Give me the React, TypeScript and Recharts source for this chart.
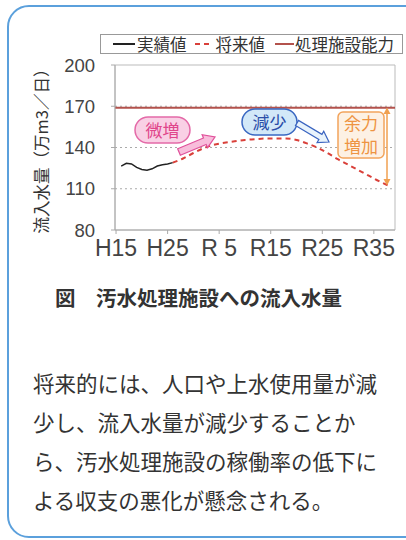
import { ComposedChart, Line, XAxis, YAxis, ReferenceLine, ReferenceArea } from "recharts"

// 実績値 (fiscal year, 万m3/日)
const actualYears = [2004, 2005, 2006, 2007, 2008, 2009, 2010, 2011, 2012, 2013, 2014]
const actualValues = [126.5, 128.5, 128, 125.5, 124, 123.5, 124.5, 126.5, 127.5, 128, 129]

// 将来値
const futureYears = [2014, 2016, 2018, 2020, 2022, 2024, 2026, 2028, 2030, 2032, 2034, 2036, 2038, 2040, 2042, 2044, 2046, 2048, 2050, 2052, 2054, 2056]
const futureValues = [129, 132, 136, 139.5, 142, 143.5, 144.5, 145.5, 146, 146.5, 146.5, 146.5, 145.5, 143, 140, 136, 131.5, 127.5, 123.5, 119.5, 115.5, 112]

// 処理施設能力
const capacity = 169

const tickYears = [2003, 2013, 2023, 2033, 2043, 2053]
const tickLabels = ["H15", "H25", "R 5", "R15", "R25", "R35"]
const yTicks = [80, 110, 140, 170, 200]
const gridValues = [110, 140, 170]
const legendLabels = ["実績値", "将来値", "処理施設能力"]

const bodyLines = [
  "将来的には、人口や上水使用量が減",
  "少し、流入水量が減少することか",
  "ら、汚水処理施設の稼働率の低下に",
  "よる収支の悪化が懸念される。",
]

const actualData = actualYears.map((year, i) => ({ year, value: actualValues[i] }))
const futureData = futureYears.map((year, i) => ({ year, value: futureValues[i] }))

const jp = '"Noto Sans CJK JP", sans-serif'
const latin = '"Liberation Sans", Arial, sans-serif'

function blockArrow(x1: number, y1: number, x2: number, y2: number, shaft: number, head: number, headLen: number) {
  const dx = x2 - x1
  const dy = y2 - y1
  const len = Math.hypot(dx, dy)
  const ux = dx / len
  const uy = dy / len
  const nx = -uy
  const ny = ux
  const bx = x2 - ux * headLen
  const by = y2 - uy * headLen
  const pts = [
    [x1 + nx * shaft / 2, y1 + ny * shaft / 2],
    [bx + nx * shaft / 2, by + ny * shaft / 2],
    [bx + nx * head / 2, by + ny * head / 2],
    [x2, y2],
    [bx - nx * head / 2, by - ny * head / 2],
    [bx - nx * shaft / 2, by - ny * shaft / 2],
    [x1 - nx * shaft / 2, y1 - ny * shaft / 2],
  ]
  return pts.map((p) => p.join(",")).join(" ")
}

function Annotations() {
  return (
    <svg width={406} height={262} style={{ position: "absolute", left: 0, top: 0, pointerEvents: "none" }}>
      {/* y axis title */}
      <text
        x={0}
        y={0}
        transform="translate(48,147) rotate(-90)"
        textAnchor="middle"
        fontSize={16.5}
        fontFamily={jp}
        fill="#333"
      >
        流入水量（万m3／日）
      </text>

      {/* 微増 */}
      <rect x={135} y={117} width={55} height={26} rx={13} fill="#f9d0e5" stroke="#e46aa8" strokeWidth={1.5} />
      <text x={162.5} y={136.5} textAnchor="middle" fontSize={17} fontFamily={jp} fill="#e0458b">微増</text>
      <polygon points={blockArrow(179, 152, 215, 137, 7, 14, 11)} fill="#f8bddb" stroke="#e0509a" strokeWidth={1.2} />

      {/* 減少 */}
      <rect x={242} y={109} width={55} height={26} rx={13} fill="#d2e8f8" stroke="#3a68c2" strokeWidth={1.5} />
      <text x={269.5} y={128.5} textAnchor="middle" fontSize={17} fontFamily={jp} fill="#2b4ea8">減少</text>
      <polygon points={blockArrow(297, 123, 329, 142, 6, 13, 10)} fill="#e8f3fc" stroke="#3a64c0" strokeWidth={1.2} />

      {/* 余力増加 */}
      <rect x={338} y={112} width={46} height={46} rx={5} fill="#fdf1e4" stroke="#f2a45c" strokeWidth={1.5} />
      <text x={361} y={130} textAnchor="middle" fontSize={17} fontFamily={jp} fill="#ee9442">余力</text>
      <text x={361} y={153} textAnchor="middle" fontSize={17} fontFamily={jp} fill="#ee9442">増加</text>
      <line x1={387} y1={110} x2={387} y2={183} stroke="#f0a050" strokeWidth={1.5} />
      <polygon points="383.5,114 387,107.5 390.5,114" fill="#f0a050" />
      <polygon points="383.5,179 387,185.5 390.5,179" fill="#f0a050" />
    </svg>
  )
}

function LegendBox() {
  const item = { display: "flex", alignItems: "center" } as const
  return (
    <div
      style={{
        position: "absolute",
        left: 100,
        top: 34,
        width: 301,
        height: 18,
        border: "1px solid #999",
        background: "#fff",
        display: "flex",
        alignItems: "center",
        fontFamily: jp,
        fontSize: 16.5,
        color: "#333",
        lineHeight: "18px",
      }}
    >
      <div style={{ ...item, marginLeft: 12 }}>
        <span style={{ width: 22, height: 0, borderTop: "2px solid #222", marginRight: 2 }} />
        {legendLabels[0]}
      </div>
      <div style={{ ...item, marginLeft: 8 }}>
        <span style={{ width: 5, height: 0, borderTop: "2.5px solid #d9403a", marginRight: 4 }} />
        <span style={{ width: 5, height: 0, borderTop: "2.5px solid #d9403a", marginRight: 7 }} />
        {legendLabels[1]}
      </div>
      <div style={{ ...item, marginLeft: 10 }}>
        <span style={{ width: 19, height: 0, borderTop: "2px solid #b3524c", marginRight: 1 }} />
        {legendLabels[2]}
      </div>
    </div>
  )
}

export default function App() {
  return (
    <div style={{ position: "absolute", left: 0, top: 0, width: 406, height: 540, overflow: "hidden", background: "#fff" }}>
      <div
        style={{
          position: "absolute",
          left: 7,
          top: 5,
          width: 416,
          height: 529,
          boxSizing: "content-box",
          border: "2px solid #5ba0dc",
          borderRadius: 22,
        }}
      />
      <div style={{ position: "absolute", left: 0, top: 0 }}>
        <ComposedChart width={406} height={262} margin={{ top: 65, right: 11, bottom: 2, left: 55 }}>
          <XAxis
            dataKey="year"
            type="number"
            domain={[2002.8, 2057.1]}
            ticks={tickYears}
            interval={0}
            allowDataOverflow
            tickFormatter={(v: number) => tickLabels[tickYears.indexOf(v)]}
            axisLine={{ stroke: "#aaa" }}
            tickLine={{ stroke: "#aaa" }}
            tickSize={4}
            tickMargin={6}
            height={30}
            tick={{ fontSize: 23, fill: "#444", fontFamily: latin }}
          />
          <YAxis
            type="number"
            domain={[80, 200]}
            ticks={yTicks}
            interval={0}
            width={60}
            axisLine={{ stroke: "#aaa" }}
            tickLine={{ stroke: "#aaa" }}
            tickSize={4}
            tickMargin={16}
            tick={{ fontSize: 18.5, fill: "#444", fontFamily: latin }}
          />
          <ReferenceArea y1={80} y2={200} fill="none" stroke="#bbb" strokeWidth={1} ifOverflow="visible" />
          {gridValues.map((v) => (
            <ReferenceLine key={v} y={v} stroke="#aaa" strokeDasharray="2 3" />
          ))}
          <ReferenceLine y={capacity} stroke="#b3524c" strokeWidth={2} />
          <Line
            data={actualData}
            dataKey="value"
            type="linear"
            stroke="#222"
            strokeWidth={1.5}
            dot={false}
            isAnimationActive={false}
          />
          <Line
            data={futureData}
            dataKey="value"
            type="monotone"
            stroke="#d9403a"
            strokeWidth={2}
            strokeDasharray="5 4"
            dot={false}
            isAnimationActive={false}
          />
        </ComposedChart>
      </div>
      <LegendBox />
      <Annotations />
      <div
        style={{
          position: "absolute",
          left: 55,
          top: 283,
          fontFamily: jp,
          fontSize: 20.5,
          fontWeight: 700,
          color: "#333",
          whiteSpace: "nowrap",
          lineHeight: "28px",
        }}
      >
        図　汚水処理施設への流入水量
      </div>
      <div
        style={{
          position: "absolute",
          left: 33,
          top: 363,
          fontFamily: jp,
          fontSize: 21.5,
          color: "#333",
          lineHeight: "39px",
        }}
      >
        {bodyLines.map((l) => (
          <div key={l} style={{ whiteSpace: "nowrap" }}>
            {l}
          </div>
        ))}
      </div>
    </div>
  )
}
